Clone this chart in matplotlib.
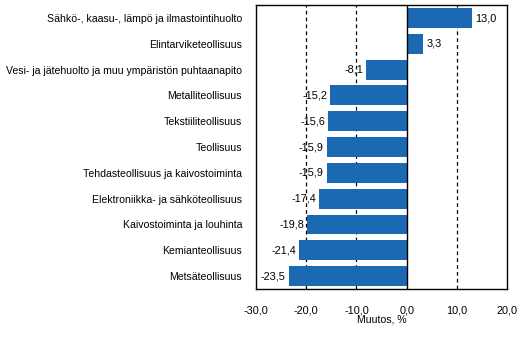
import matplotlib.pyplot as plt
import numpy as np

plt.rcParams['font.family'] = ['Liberation Sans Narrow', 'Liberation Sans', 'DejaVu Sans']

# Toimialat ja muutos, %
categories = [
    'Sähkö-, kaasu-, lämpö ja ilmastointihuolto',
    'Elintarviketeollisuus',
    'Vesi- ja jätehuolto ja muu ympäristön puhtaanapito',
    'Metalliteollisuus',
    'Tekstiiliteollisuus',
    'Teollisuus',
    'Tehdasteollisuus ja kaivostoiminta',
    'Elektroniikka- ja sähköteollisuus',
    'Kaivostoiminta ja louhinta',
    'Kemianteollisuus',
    'Metsäteollisuus',
]
values = [13.0, 3.3, -8.1, -15.2, -15.6, -15.9, -15.9, -17.4, -19.8, -21.4, -23.5]
xticks = [-30, -20, -10, 0, 10, 20]

fig = plt.figure(figsize=(5.31, 3.4), dpi=100)
ax = fig.add_axes([0.482, 0.150, 0.473, 0.835])

y = np.arange(len(categories))
ax.barh(y, values, height=0.77, color='#1a69b2', zorder=3)

for yi, v in zip(y, values):
    txt = f'{v:.1f}'.replace('.', ',')
    if v >= 0:
        ax.text(v + 0.6, yi, txt, va='center', ha='left', fontsize=7.8, zorder=4)
    else:
        ax.text(v - 0.6, yi, txt, va='center', ha='right', fontsize=7.8, zorder=4)

for g in [-20, -10, 10]:
    ax.axvline(g, color='black', linestyle=(0, (3, 2.5)), linewidth=0.9, zorder=1)
ax.axvline(0, color='black', linewidth=1.0, zorder=4)

ax.set_xlim(-30, 20)
ax.set_ylim(len(categories) - 0.5, -0.5)
ax.set_yticks(y)
ax.set_yticklabels(categories, fontsize=7.6)
ax.set_xticks(xticks)
ax.set_xticklabels([f'{t:.1f}'.replace('.', ',') for t in xticks], fontsize=7.8)
ax.tick_params(axis='both', length=0)
ax.tick_params(axis='x', pad=12)
ax.tick_params(axis='y', pad=10)
ax.set_xlabel('Muutos, %', fontsize=7.6, labelpad=-1)

for s in ax.spines.values():
    s.set_linewidth(1.0)

fig.savefig('out.png', dpi=100)
